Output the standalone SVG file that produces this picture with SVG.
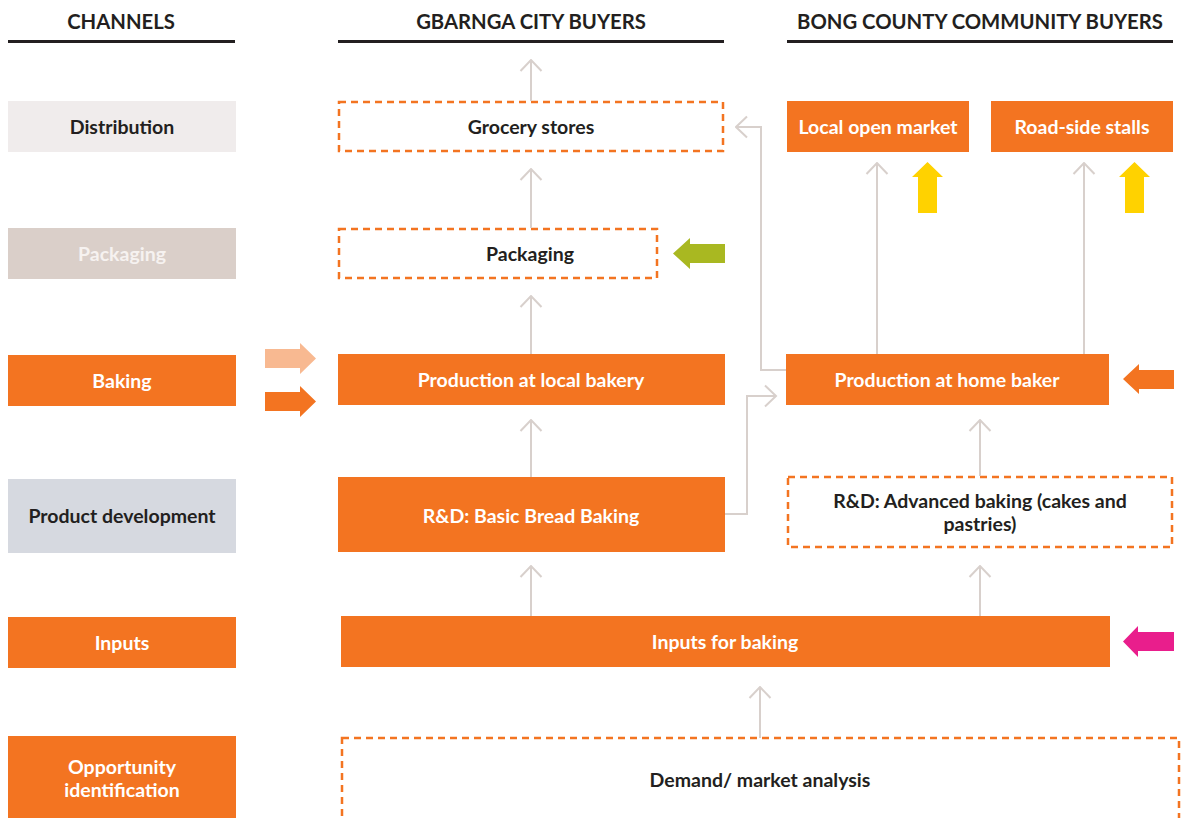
<svg xmlns="http://www.w3.org/2000/svg" width="1194" height="818" viewBox="0 0 1194 818">
<style>
text{font-family:Lato,"Open Sans","Liberation Sans",sans-serif;font-weight:700;text-anchor:middle}
.hd{font-size:20.3px;fill:#231f20}
.t{font-size:19.5px}
.dk{fill:#231f20}
.wt{fill:#ffffff}
.or{fill:#f37421}
.dash{fill:#ffffff;stroke:#f37421;stroke-width:2.5;stroke-dasharray:7 5}
.hl{stroke:#231f20;stroke-width:3}
.cn{fill:none;stroke:#d8d0cc;stroke-width:2;marker-end:url(#open)}
</style>
<defs>
<marker id="open" markerUnits="userSpaceOnUse" viewBox="0 0 14 24" markerWidth="14" markerHeight="24" refX="12.5" refY="12" orient="auto">
<path d="M1.5,1.5 L12.5,12 L1.5,22.5" fill="none" stroke="#d8d0cc" stroke-width="2"/>
</marker>
</defs>

<g id="headers">
<text class="hd" x="121" y="29">CHANNELS</text>
<line class="hl" x1="8" y1="41.5" x2="235" y2="41.5"/>
<text class="hd" x="531" y="29">GBARNGA CITY BUYERS</text>
<line class="hl" x1="338" y1="41.5" x2="724" y2="41.5"/>
<text class="hd" x="980" y="29">BONG COUNTY COMMUNITY BUYERS</text>
<line class="hl" x1="787" y1="41.5" x2="1173" y2="41.5"/>
</g>

<g id="ch-distribution"><rect x="8" y="101" width="228" height="51" fill="#f0ecec"/><text class="t dk" x="122" y="134">Distribution</text></g>
<g id="ch-packaging"><rect x="8" y="228" width="228" height="51" fill="#dacfc9"/><text class="t" fill="#f6f2f0" x="122" y="261">Packaging</text></g>
<g id="ch-baking"><rect class="or" x="8" y="355" width="228" height="51"/><text class="t wt" x="122" y="388">Baking</text></g>
<g id="ch-product"><rect x="8" y="479" width="228" height="74" fill="#d6d9e0"/><text class="t dk" x="122" y="523">Product development</text></g>
<g id="ch-inputs"><rect class="or" x="8" y="617" width="228" height="51"/><text class="t wt" x="122" y="650">Inputs</text></g>
<g id="ch-opportunity"><rect class="or" x="8" y="736" width="228" height="82"/><text class="t wt" x="122" y="774">Opportunity</text><text class="t wt" x="122" y="797">identification</text></g>

<g id="grocery"><rect class="dash" x="339" y="102" width="384" height="49"/><text class="t dk" x="531" y="134">Grocery stores</text></g>
<g id="packaging"><rect class="dash" x="339" y="229" width="318" height="49"/><text class="t dk" x="530" y="261">Packaging</text></g>
<g id="prod-local"><rect class="or" x="338" y="354" width="387" height="51"/><text class="t wt" x="531" y="387">Production at local bakery</text></g>
<g id="rd-basic"><rect class="or" x="338" y="477" width="387" height="75"/><text class="t wt" x="531" y="523">R&amp;D: Basic Bread Baking</text></g>
<g id="inputs"><rect class="or" x="341" y="616" width="769" height="51"/><text class="t wt" x="725" y="649">Inputs for baking</text></g>
<g id="demand"><rect class="dash" x="342" y="738" width="837" height="90"/><text class="t dk" x="760" y="787">Demand/ market analysis</text></g>

<g id="local-market"><rect class="or" x="787" y="101" width="182" height="51"/><text class="t wt" x="878" y="134">Local open market</text></g>
<g id="roadside"><rect class="or" x="991" y="101" width="182" height="51"/><text class="t wt" x="1082" y="134">Road-side stalls</text></g>
<g id="prod-home"><rect class="or" x="786" y="354" width="323" height="51"/><text class="t wt" x="947" y="387">Production at home baker</text></g>
<g id="rd-advanced"><rect class="dash" x="788" y="477" width="384" height="70"/><text class="t dk" x="980" y="508">R&amp;D: Advanced baking (cakes and</text><text class="t dk" x="980" y="531">pastries)</text></g>

<g id="connectors">
<path class="cn" d="M531,101 L531,60"/>
<path class="cn" d="M531,228 L531,169"/>
<path class="cn" d="M531,354 L531,296"/>
<path class="cn" d="M531,477 L531,420"/>
<path class="cn" d="M531,616 L531,566"/>
<path class="cn" d="M980,616 L980,566"/>
<path class="cn" d="M980,476 L980,420"/>
<path class="cn" d="M760,738 L760,687"/>
<path class="cn" d="M725,514 L747,514 L747,396 L776,396"/>
<path class="cn" d="M786,370 L761,370 L761,127 L736,127"/>
<path class="cn" d="M877,354 L877,163"/>
<path class="cn" d="M1084,354 L1084,163"/>
</g>

<g id="block-arrows">
<polygon fill="#ffd200" points="927.5,162 943,177 937,177 937,213 918,213 918,177 912,177"/>
<polygon fill="#ffd200" points="1134.5,162 1150,177 1144,177 1144,213 1125,213 1125,177 1119,177"/>
<polygon fill="#a9b821" points="673,253.5 690,238 690,244 725,244 725,263 690,263 690,269"/>
<polygon fill="#f8b991" points="316,358.5 300,343 300,349 265,349 265,368 300,368 300,374"/>
<polygon fill="#f37421" points="316,401.5 300,386 300,392 265,392 265,411 300,411 300,417"/>
<polygon fill="#f37421" points="1123,379 1139,364 1139,370 1174,370 1174,389 1139,389 1139,394"/>
<polygon fill="#e91e8c" points="1123,641.5 1138,626 1138,632 1174,632 1174,651 1138,651 1138,657"/>
</g>
</svg>
